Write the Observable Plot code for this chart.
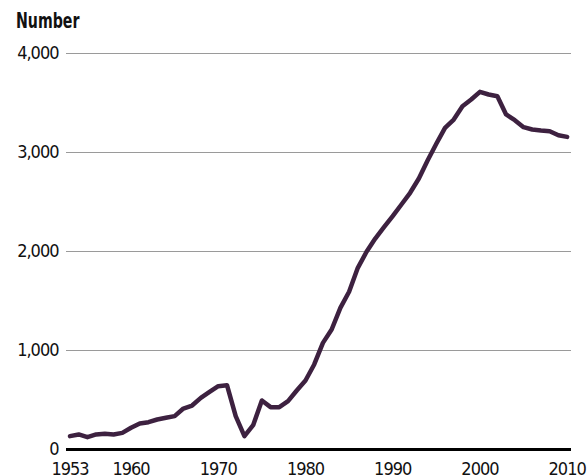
<!DOCTYPE html>
<html><head><meta charset="utf-8">
<script src="https://cdn.jsdelivr.net/npm/d3@7"></script>
<script src="https://cdn.jsdelivr.net/npm/@observablehq/plot@0.6"></script>
<style>
body{margin:0;background:#fff;font-family:'DejaVu Sans Condensed','Liberation Sans Narrow',sans-serif;overflow:hidden;}
#title{height:32px;box-sizing:border-box;padding:11px 0 0 16px;line-height:20px;font-size:21px;font-weight:bold;color:#111;white-space:nowrap;}
#title span{display:inline-block;transform:scaleX(0.75);transform-origin:left center;}
svg{overflow:visible;}
svg text{letter-spacing:-1px;}
</style>
</head><body>
<div id="title"><span>Number</span></div>
<div id="chart"></div>
<script>
const years = [1953,1954,1955,1956,1957,1958,1959,1960,1961,1962,1963,1964,1965,1966,1967,1968,1969,1970,1971,1972,1973,1974,1975,1976,1977,1978,1979,1980,1981,1982,1983,1984,1985,1986,1987,1988,1989,1990,1991,1992,1993,1994,1995,1996,1997,1998,1999,2000,2001,2002,2003,2004,2005,2006,2007,2008,2009,2010];
const values = [135,152,125,152,158,152,168,219,263,276,303,320,337,414,444,522,582,640,650,337,135,246,495,428,428,488,596,697,859,1077,1212,1431,1593,1835,1997,2131,2246,2357,2475,2593,2737,2919,3088,3249,3333,3468,3535,3613,3586,3569,3384,3327,3256,3232,3222,3215,3175,3158];
const xTicks = [1953,1960,1970,1980,1990,2000,2010];
const yTicks = [0,1000,2000,3000,4000];

const data = years.map((year,i)=>({year, value: values[i]}));
const font = "'DejaVu Sans Condensed','Liberation Sans Narrow',sans-serif";

const chart = Plot.plot({
  width: 587,
  height: 443,
  marginTop: 21,
  marginBottom: 26,
  marginLeft: 66,
  marginRight: 16,
  style: {fontFamily: font, fontSize: "18px", color: "#111", background: "#fff", overflow: "visible"},
  x: {domain: [1952.6, 2010.5]},
  y: {domain: [0, 4000]},
  marks: [
    Plot.gridY(yTicks, {stroke: "#9a9a9a", strokeOpacity: 1, strokeWidth: 1}),
    Plot.axisY(yTicks, {tickSize: 0, tickPadding: 8, tickFormat: d3.format(","), label: null}),
    Plot.axisX(xTicks, {tickSize: 0, tickPadding: 13, tickFormat: d => String(d), label: null}),
    Plot.ruleY([0], {stroke: "#000", strokeWidth: 3}),
    Plot.line(data, {x: "year", y: "value", stroke: "#3d2140", strokeWidth: 4.5})
  ]
});
document.getElementById("chart").appendChild(chart);
</script>
</body></html>
